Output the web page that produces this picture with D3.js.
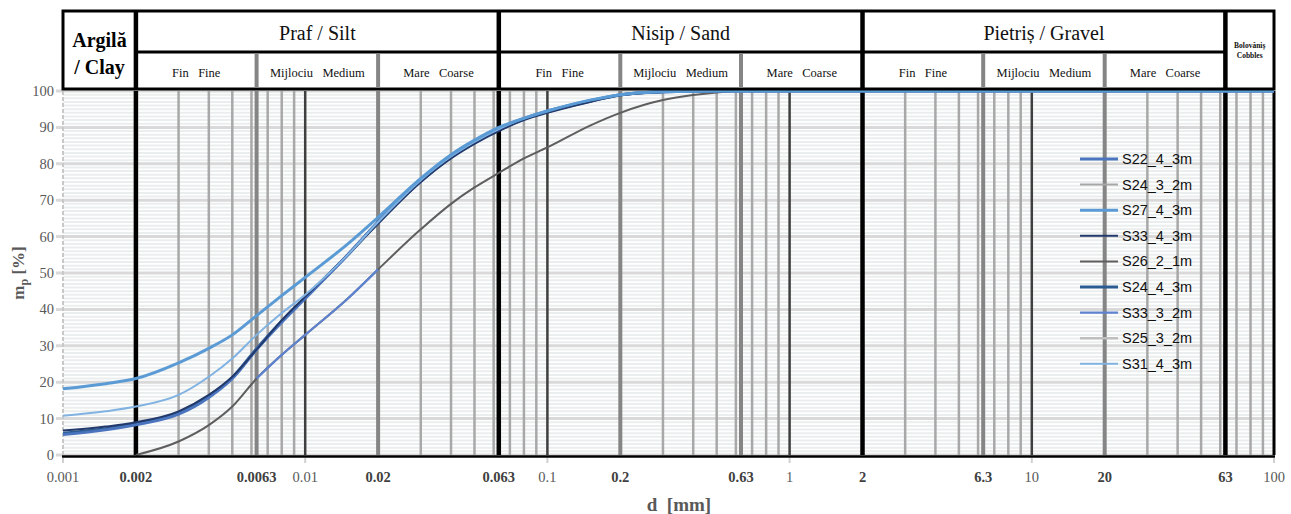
<!DOCTYPE html>
<html>
<head>
<meta charset="utf-8">
<script src="https://cdn.jsdelivr.net/npm/d3@7"></script>
<style>
  body { margin: 0; background: #fff; }
  svg { display: block; }
</style>
</head>
<body>
<div id="chart"></div>
<script>
// grain sizes [mm] and passing [%]
const sizesA = [0.001, 0.0015, 0.002, 0.003, 0.004, 0.005, 0.0063, 0.008, 0.01, 0.015, 0.02, 0.03, 0.04, 0.05, 0.063, 0.08, 0.1, 0.15, 0.2, 0.3, 0.5, 1, 10, 100]
const s27 = [18.2, 19.6, 21, 25.3, 29.3, 33, 38.3, 43.8, 48.8, 58, 65.3, 76, 82.5, 86.5, 90, 92.5, 94.5, 97.5, 99, 99.8, 100, 100, 100, 100]
const s31 = [10.8, 12, 13.3, 16.5, 21.5, 26.5, 33, 39, 44, 55, 64, 75.5, 82, 86, 89.5, 92.5, 94.5, 97.5, 99, 99.8, 100, 100, 100, 100]
const s33_4 = [6.7, 7.8, 9, 12, 16.5, 21.5, 29, 37, 43.5, 55, 63.5, 75, 81.5, 85.5, 89, 92, 94, 97, 98.8, 99.7, 100, 100, 100, 100]
const s22 = [5.6, 6.9, 8.3, 11.2, 15.8, 21, 29, 36.5, 43, 55, 64, 75.5, 82, 86, 89.5, 92.5, 94.5, 97.3, 99, 99.8, 100, 100, 100, 100]
const s24_4 = [6, 7.2, 8.6, 11.6, 16.2, 21.3, 29.2, 36.8, 43.3, 55, 64, 75.2, 81.8, 85.8, 89.3, 92.3, 94.3, 97.2, 98.9, 99.8, 100, 100, 100, 100]

const sizesG = [0.002, 0.003, 0.004, 0.005, 0.0063, 0.008, 0.01, 0.015, 0.02, 0.03, 0.04, 0.05, 0.063, 0.08, 0.1, 0.15, 0.2, 0.3, 0.4, 0.5, 0.63, 1, 10, 100]
const s26 = [0, 3.7, 8.2, 13.3, 21, 27.5, 33, 43, 51, 62, 69, 73.5, 77.5, 81.5, 84.5, 90.5, 94, 97.5, 98.9, 99.6, 100, 100, 100, 100]

const sizesM = [0.0063, 0.008, 0.01, 0.015, 0.02]
const s33_3 = [21, 27.5, 33, 43, 51]

const seriesNames = ["S22_4_3m", "S24_3_2m", "S27_4_3m", "S33_4_3m", "S26_2_1m", "S24_4_3m", "S33_3_2m", "S25_3_2m", "S31_4_3m"]
const seriesSizes = [sizesA, [], sizesA, sizesA, sizesG, sizesA, sizesM, [], sizesA]
const seriesValues = [s22, [], s27, s33_4, s26, s24_4, s33_3, [], s31]
const seriesColors = ["#4a74bd", "#a6a6a6", "#5b9bd5", "#22396b", "#5e5e5e", "#2b5c91", "#5d82cf", "#bfbfbf", "#80b2e2"]
const seriesWidths = [3, 2, 3, 2, 2, 3, 2.2, 2.5, 2]
// draw order (bottom first)
const drawOrder = [4, 6, 5, 0, 3, 8, 2, 1, 7]

// soil classes
const mainClasses = ["Praf / Silt", "Nisip / Sand", "Pietriș / Gravel"]
const mainBounds = [[0.002, 0.063], [0.063, 2], [2, 63]]
const subNames = ["Fin   Fine", "Mijlociu   Medium", "Mare   Coarse"]
const majorBounds = [0.002, 0.063, 2, 63, 100]
const subBounds = [0.0063, 0.02, 0.2, 0.63, 6.3, 20]
const decadeLines = [0.01, 0.1, 1, 10]

const xTickValues = [0.001, 0.002, 0.0063, 0.01, 0.02, 0.063, 0.1, 0.2, 0.63, 1, 2, 6.3, 10, 20, 63, 100]
const xTickLabels = ["0.001", "0.002", "0.0063", "0.01", "0.02", "0.063", "0.1", "0.2", "0.63", "1", "2", "6.3", "10", "20", "63", "100"]
const boldTicks = [0.002, 0.0063, 0.02, 0.063, 0.2, 0.63, 2, 6.3, 20, 63]
const yTicks = [0, 10, 20, 30, 40, 50, 60, 70, 80, 90, 100]

const W = 1291, H = 514
const pLeft = 63, pRight = 1274, pTop = 91, pBottom = 455
const headTop = 11, headMid = 52, headBottom = 89

const x = d3.scaleLog().domain([0.001, 100]).range([pLeft, pRight])
const y = d3.scaleLinear().domain([0, 100]).range([pBottom, pTop])

const svg = d3.select("#chart").append("svg")
  .attr("width", W)
  .attr("height", H)

// horizontal grid
const minorY = d3.range(1, 100).filter(v => v % 10 != 0)
svg.append("g")
  .selectAll("line")
  .data(minorY)
  .enter().append("line")
    .attr("x1", pLeft).attr("x2", pRight)
    .attr("y1", d => y(d)).attr("y2", d => y(d))
    .attr("stroke", "#ebeeee")
    .attr("stroke-width", 2)

svg.append("g")
  .selectAll("line")
  .data(yTicks)
  .enter().append("line")
    .attr("x1", pLeft - 7).attr("x2", pRight)
    .attr("y1", d => y(d)).attr("y2", d => y(d))
    .attr("stroke", "#d9d9d9")
    .attr("stroke-width", 3)

// vertical grid: every log tick, then the class boundaries on top
const skip = new Set(majorBounds.concat(subBounds, decadeLines).map(v => +v.toPrecision(3)))
const minorX = x.ticks().filter(v => !skip.has(+v.toPrecision(3)) && v > 0.001)
svg.append("g")
  .selectAll("line")
  .data(minorX)
  .enter().append("line")
    .attr("x1", d => x(d)).attr("x2", d => x(d))
    .attr("y1", pTop).attr("y2", pBottom)
    .attr("stroke", "#a8a8a8")
    .attr("stroke-width", 2.5)

svg.append("line")
  .attr("x1", x(0.001)).attr("x2", x(0.001))
  .attr("y1", pTop).attr("y2", pBottom)
  .attr("stroke", "#c8c8c8")
  .attr("stroke-width", 2)
  .attr("stroke-dasharray", "4,2")

svg.append("g")
  .selectAll("line")
  .data(decadeLines)
  .enter().append("line")
    .attr("x1", d => x(d)).attr("x2", d => x(d))
    .attr("y1", pTop).attr("y2", pBottom)
    .attr("stroke", "#3f3f3f")
    .attr("stroke-width", 2.5)

svg.append("g")
  .selectAll("line")
  .data(subBounds)
  .enter().append("line")
    .attr("x1", d => x(d)).attr("x2", d => x(d))
    .attr("y1", pTop).attr("y2", pBottom)
    .attr("stroke", "#858585")
    .attr("stroke-width", 4)

svg.append("g")
  .selectAll("line")
  .data(majorBounds)
  .enter().append("line")
    .attr("x1", d => x(d)).attr("x2", d => x(d))
    .attr("y1", pTop).attr("y2", pBottom)
    .attr("stroke", "#000")
    .attr("stroke-width", d => d == 100 ? 3 : 4.5)

// curves
const line = d3.line()
  .x(d => x(d[0]))
  .y(d => y(d[1]))
  .curve(d3.curveMonotoneX)

svg.append("g")
  .selectAll("path")
  .data(drawOrder)
  .enter().append("path")
    .attr("d", i => seriesSizes[i].length ? line(d3.zip(seriesSizes[i], seriesValues[i])) : null)
    .attr("fill", "none")
    .attr("stroke", i => seriesColors[i])
    .attr("stroke-width", i => seriesWidths[i])
    .attr("stroke-linejoin", "round")

// bottom axis line
svg.append("line")
  .attr("x1", pLeft - 1).attr("x2", pRight + 1)
  .attr("y1", pBottom + 1.5).attr("y2", pBottom + 1.5)
  .attr("stroke", "#000")
  .attr("stroke-width", 2.5)

// y axis labels
svg.append("g")
  .selectAll("text")
  .data(yTicks)
  .enter().append("text")
    .attr("x", 54)
    .attr("y", d => y(d) + 5)
    .attr("text-anchor", "end")
    .attr("font-family", "Liberation Serif, serif")
    .attr("font-size", 14.5)
    .attr("fill", "#595959")
    .text(d => d)

const yTitle = svg.append("text")
  .attr("transform", `translate(24,${(pTop + pBottom) / 2}) rotate(-90)`)
  .attr("text-anchor", "middle")
  .attr("font-family", "Liberation Serif, serif")
  .attr("font-weight", "bold")
  .attr("font-size", 17)
  .attr("fill", "#595959")
yTitle.append("tspan").text("m")
yTitle.append("tspan").attr("font-size", 12).attr("dy", 4).text("p")
yTitle.append("tspan").attr("dy", -4).text(" [%]")

// x axis ticks and labels
svg.append("g")
  .selectAll("line")
  .data(xTickValues.filter(v => !boldTicks.includes(v)))
  .enter().append("line")
    .attr("x1", d => x(d)).attr("x2", d => x(d))
    .attr("y1", pBottom + 3).attr("y2", pBottom + 8)
    .attr("stroke", "#d0d0d0")
    .attr("stroke-width", 2)

svg.append("g")
  .selectAll("text")
  .data(xTickValues)
  .enter().append("text")
    .attr("x", d => x(d))
    .attr("y", 482)
    .attr("text-anchor", "middle")
    .attr("font-family", "Liberation Serif, serif")
    .attr("font-size", 14.5)
    .attr("font-weight", d => boldTicks.includes(d) ? "bold" : "normal")
    .attr("fill", d => boldTicks.includes(d) ? "#404040" : "#595959")
    .text((d, i) => xTickLabels[i])

svg.append("text")
  .attr("x", 679)
  .attr("y", 511)
  .attr("text-anchor", "middle")
  .attr("font-family", "Liberation Serif, serif")
  .attr("font-weight", "bold")
  .attr("font-size", 19)
  .attr("fill", "#595959")
  .attr("xml:space", "preserve")
  .text("d  [mm]")

// header table
const head = svg.append("g")

head.append("rect")
  .attr("x", pLeft).attr("y", headTop)
  .attr("width", pRight - pLeft).attr("height", headBottom - headTop)
  .attr("fill", "#fff")
  .attr("stroke", "#000")
  .attr("stroke-width", 3)

head.append("line")
  .attr("x1", x(0.002)).attr("x2", x(63))
  .attr("y1", headMid).attr("y2", headMid)
  .attr("stroke", "#000")
  .attr("stroke-width", 3)

head.selectAll(".sub")
  .data(subBounds)
  .enter().append("line")
    .attr("x1", d => x(d)).attr("x2", d => x(d))
    .attr("y1", headMid + 1.5).attr("y2", headBottom - 1)
    .attr("stroke", "#858585")
    .attr("stroke-width", 4)

head.selectAll(".maj")
  .data(majorBounds.slice(0, 4))
  .enter().append("line")
    .attr("x1", d => x(d)).attr("x2", d => x(d))
    .attr("y1", headTop).attr("y2", headBottom)
    .attr("stroke", "#000")
    .attr("stroke-width", 4.5)

head.selectAll(".mainLabel")
  .data(mainClasses)
  .enter().append("text")
    .attr("x", (d, i) => (x(mainBounds[i][0]) + x(mainBounds[i][1])) / 2)
    .attr("y", 40)
    .attr("text-anchor", "middle")
    .attr("font-family", "Liberation Serif, serif")
    .attr("font-size", 20)
    .attr("fill", "#111")
    .text(d => d)

// sub labels: three per main class
const subCells = []
mainBounds.forEach(b => {
  const edges = [b[0]].concat(subBounds.filter(v => v > b[0] && v < b[1]), [b[1]])
  for (let k = 0; k < 3; k++) subCells.push([edges[k], edges[k + 1], subNames[k]])
})
head.selectAll(".subLabel")
  .data(subCells)
  .enter().append("text")
    .attr("x", d => (x(d[0]) + x(d[1])) / 2)
    .attr("y", 77)
    .attr("text-anchor", "middle")
    .attr("font-family", "Liberation Serif, serif")
    .attr("font-size", 12.5)
    .attr("fill", "#111")
    .attr("xml:space", "preserve")
    .text(d => d[2])

head.append("text")
  .attr("x", (x(0.001) + x(0.002)) / 2)
  .attr("y", 47)
  .attr("text-anchor", "middle")
  .attr("font-family", "Liberation Serif, serif")
  .attr("font-weight", "bold")
  .attr("font-size", 20)
  .text("Argilă")
head.append("text")
  .attr("x", (x(0.001) + x(0.002)) / 2)
  .attr("y", 74)
  .attr("text-anchor", "middle")
  .attr("font-family", "Liberation Serif, serif")
  .attr("font-weight", "bold")
  .attr("font-size", 20)
  .text("/ Clay")

head.append("text")
  .attr("x", (x(63) + x(100)) / 2)
  .attr("y", 48)
  .attr("text-anchor", "middle")
  .attr("font-family", "Liberation Serif, serif")
  .attr("font-weight", "bold")
  .attr("font-size", 7.5)
  .attr("fill", "#111")
  .text("Bolovăniș")
head.append("text")
  .attr("x", (x(63) + x(100)) / 2)
  .attr("y", 58)
  .attr("text-anchor", "middle")
  .attr("font-family", "Liberation Serif, serif")
  .attr("font-weight", "bold")
  .attr("font-size", 7.5)
  .attr("fill", "#111")
  .text("Cobbles")

// legend
const legend = svg.append("g")
  .selectAll("g")
  .data(seriesNames)
  .enter().append("g")
    .attr("transform", (d, i) => `translate(1080,${159 + i * 25.6})`)

legend.append("line")
  .attr("x1", 0).attr("x2", 38)
  .attr("stroke", (d, i) => seriesColors[i])
  .attr("stroke-width", (d, i) => seriesWidths[i])

legend.append("text")
  .attr("x", 42)
  .attr("y", 5)
  .attr("font-family", "Liberation Sans, Arial, sans-serif")
  .attr("font-size", 14.5)
  .attr("fill", "#111")
  .text(d => d)
</script>
</body>
</html>
